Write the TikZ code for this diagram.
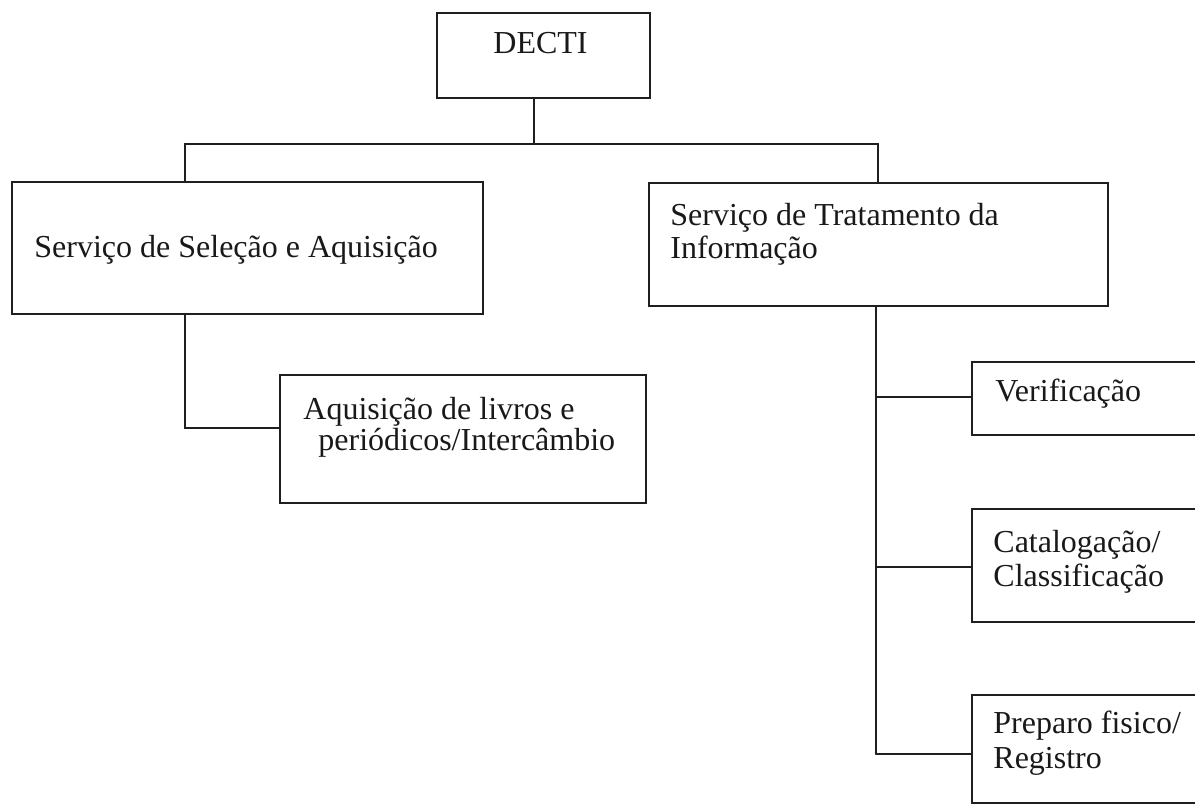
\documentclass[tikz,border=0pt]{standalone}
\usepackage{fontspec}
\setmainfont{Liberation Serif}
\begin{document}
\begin{tikzpicture}[x=0.5pt,y=-0.5pt,
  ink/.style={draw=black!88, line width=0.85pt},
  box/.style={ink, rectangle, inner sep=0pt},
  lbl/.style={anchor=base west, inner sep=0pt, text=black!90, font=\fontsize{16}{16}\selectfont},
  wire/.style={ink, line cap=round}]
\useasboundingbox (0,0) rectangle (1195,806);
\clip (0,0) rectangle (1195,806);
% boxes (given by corners in pixel units)
\node[box, fit/.style={}, minimum width=106.5pt, minimum height=42.5pt] (decti) at (543.5,55.5) {};
\node[box, minimum width=235.5pt, minimum height=66pt] (ssa) at (247.5,248) {};
\node[box, minimum width=229.5pt, minimum height=61.5pt] (sti) at (878.5,244.5) {};
\node[box, minimum width=183pt, minimum height=64pt] (aq) at (463,439) {};
\node[box, minimum width=119pt, minimum height=36.5pt] (ver) at (1091,398.5) {};
\node[box, minimum width=119pt, minimum height=56.5pt] (cat) at (1091,565.5) {};
\node[box, minimum width=119pt, minimum height=54pt] (prep) at (1091,749) {};
% texts
\node[lbl] (tdecti) at (493,54) {DECTI};
\node[lbl] (tssa) at (34,258) {Serviço de Seleção e Aquisição};
\node[lbl] (tsti1) at (670,226) {Serviço de Tratamento da};
\node[lbl] (tsti2) at (670,259) {Informação};
\node[lbl] (taq1) at (303,420) {Aquisição de livros e};
\node[lbl] (taq2) at (318,451) {periódicos/Intercâmbio};
\node[lbl] (tver) at (995,402) {Verificação};
\node[lbl] (tcat1) at (993,553) {Catalogação/};
\node[lbl] (tcat2) at (993,587) {Classificação};
\node[lbl] (tprep1) at (993,734) {Preparo fisico/};
\node[lbl] (tprep2) at (993,769) {Registro};
% connectors
\coordinate (dj) at (534,144);
\coordinate (bl) at (185,144);
\coordinate (br) at (878,144);
\draw[wire] (dj |- decti.south) -- (dj);
\draw[wire] (bl |- ssa.north) -- (bl) -- (br) -- (br |- sti.north);
\coordinate (aj) at (185,428);
\draw[wire] (aj |- ssa.south) -- (aj) -- (aj -| aq.west);
\coordinate (sv) at (876,397);
\coordinate (sc) at (876,567);
\coordinate (sp) at (876,754);
\draw[wire] (sp |- sti.south) -- (sp);
\draw[wire] (sv) -- (sv -| ver.west);
\draw[wire] (sc) -- (sc -| cat.west);
\draw[wire] (sp) -- (sp -| prep.west);
\end{tikzpicture}
\end{document}
